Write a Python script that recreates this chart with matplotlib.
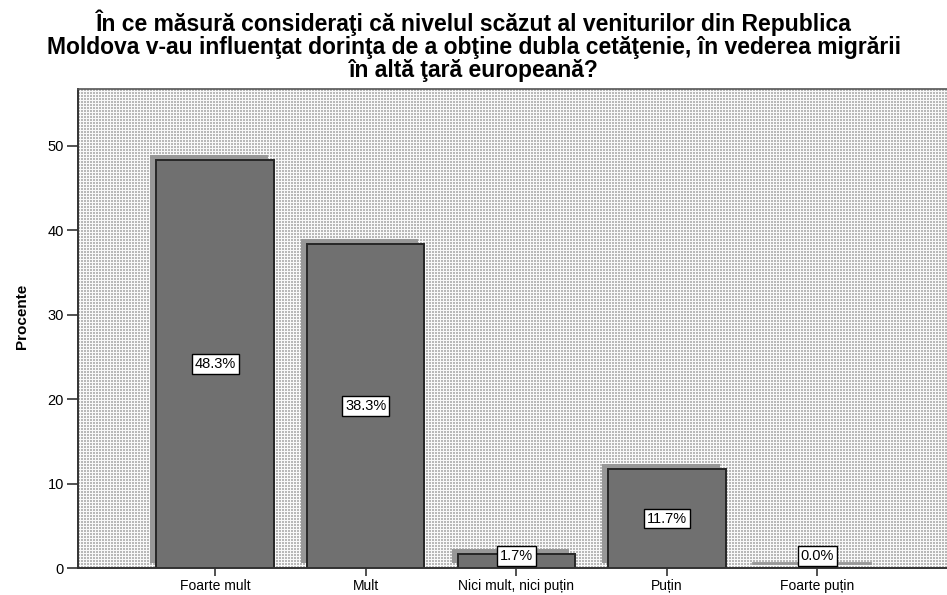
import numpy as np
import matplotlib
matplotlib.use("Agg")
import matplotlib.pyplot as plt
from matplotlib.transforms import ScaledTranslation

categories = ["Foarte mult", "Mult", "Nici mult, nici puțin", "Puțin", "Foarte puțin"]
values = [48.3, 38.3, 1.7, 11.7, 0.0]
labels = ["48.3%", "38.3%", "1.7%", "11.7%", "0.0%"]
yticks = [0, 10, 20, 30, 40, 50]
title = ("În ce măsură consideraţi că nivelul scăzut al veniturilor din Republica\n"
         "Moldova v-au influenţat dorinţa de a obţine dubla cetăţenie, în vederea migrării\n"
         "în altă ţară europeană?")

plt.rcParams['font.family'] = ['Liberation Sans', 'DejaVu Sans']

W, H = 947, 595
dpi = 100
fig = plt.figure(figsize=(W / dpi, H / dpi), dpi=dpi)
ax_l, ax_r, ax_t, ax_b = 78, 947, 89, 568
ax = fig.add_axes([ax_l / W, 1 - ax_b / H, (ax_r - ax_l) / W, (ax_b - ax_t) / H])

x = np.arange(len(categories))
xlim = (-0.91, 4.86)
ylim = (0, 56.7)
ax.set_xlim(*xlim)
ax.set_ylim(*ylim)

# dotted background pattern
pw, ph = ax_r - ax_l, ax_b - ax_t
yy, xx = np.mgrid[0:ph, 0:pw]
dots = ((xx % 3) < 2) & ((yy % 3) < 2)
pat = np.where(dots, 0.72, 0.97)
ax.imshow(pat, cmap='gray', vmin=0, vmax=1, extent=(xlim[0], xlim[1], ylim[0], ylim[1]),
          aspect='auto', interpolation='nearest', zorder=0)

# shadows
shadow_tr = ax.transData + ScaledTranslation(-6 / dpi, 5 / dpi, fig.dpi_scale_trans)
width = 0.78
for xi, v in zip(x, values):
    if v > 0:
        ax.bar(xi, v, width=width, color='#979797', edgecolor='none', zorder=1,
               transform=shadow_tr)
    else:
        ax.plot([xi - width / 2, xi + width / 2], [0, 0], color='#979797', lw=2,
                transform=shadow_tr, zorder=1)

ax.bar(x, values, width=width, color='#707070', edgecolor='#262626', linewidth=1.4, zorder=2)

for xi, v, lab in zip(x, values, labels):
    y = max(v / 2, 1.4)
    ax.text(xi, y, lab, ha='center', va='center', fontsize=10.5, zorder=4,
            bbox=dict(boxstyle='square,pad=0.2', facecolor='white', edgecolor='black', linewidth=1))

ax.set_xticks(x)
ax.set_xticklabels(categories, fontsize=10)
ax.set_yticks(yticks)
ax.set_yticklabels([str(t) for t in yticks], fontsize=10.5)
ax.tick_params(axis='y', length=8, width=1.2, color='#333333', pad=2)
ax.tick_params(axis='x', length=6, width=1.2, color='#333333', pad=2)
for s in ['left', 'bottom']:
    ax.spines[s].set_linewidth(1.4)
    ax.spines[s].set_color('#333333')
ax.spines['top'].set_linewidth(1.2)
ax.spines['top'].set_color('#555555')
ax.spines['right'].set_visible(False)

ax.set_ylabel("Procente", fontsize=11, fontweight='bold')
ax.yaxis.set_label_coords(-(ax_l - 29) / pw, (ax_b - 316) / ph)
fig.text(0.5, 1 - 10 / H, title, ha='center', va='top', fontsize=16.5,
         fontweight='bold', linespacing=0.98)

fig.savefig("out.png", dpi=dpi)
